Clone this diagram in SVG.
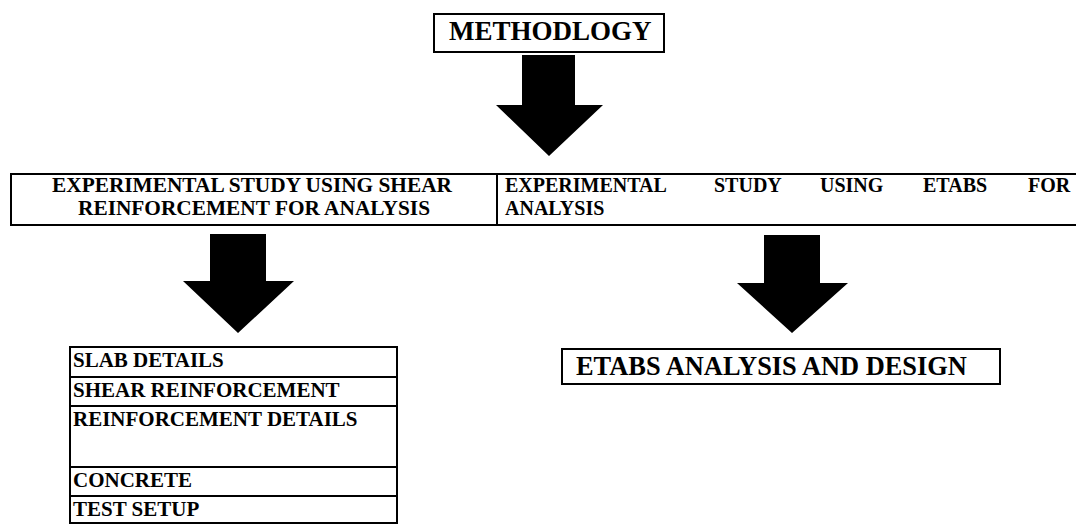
<svg xmlns="http://www.w3.org/2000/svg" width="1076" height="524" viewBox="0 0 1076 524">
<style>
.box{fill:#fff;stroke:#000;stroke-width:2}
.ln{stroke:#000;stroke-width:2;fill:none}
.t{font-family:"Liberation Serif","Times New Roman",serif;font-weight:bold;fill:#000}
.s{font-size:20px}
.arrow{fill:#000;stroke:none}
</style>
<rect width="1076" height="524" fill="#fff"/>
<g id="methodology">
<rect class="box" x="434" y="14" width="230" height="38"/>
<text class="t" x="449" y="40" font-size="27">METHODLOGY</text>
</g>
<g id="studies">
<path class="ln" d="M1080,174 H11 V225 H1080 M497,174 V225"/>
<text class="t s" x="52" y="192" textLength="400" lengthAdjust="spacingAndGlyphs">EXPERIMENTAL STUDY USING SHEAR</text>
<text class="t s" x="78" y="215" textLength="352" lengthAdjust="spacingAndGlyphs">REINFORCEMENT FOR ANALYSIS</text>
<text class="t s" y="192"><tspan x="505">EXPERIMENTAL</tspan><tspan x="714">STUDY</tspan><tspan x="820">USING</tspan><tspan x="923">ETABS</tspan><tspan x="1028">FOR</tspan></text>
<text class="t s" x="505" y="215">ANALYSIS</text>
</g>
<g id="shear-list">
<path class="ln" d="M70,347 H397 V523 H70 Z M70,377 H397 M70,406 H397 M70,467 H397 M70,496 H397"/>
<text class="t" font-size="21" x="73" y="367">SLAB DETAILS</text>
<text class="t" font-size="21" x="73" y="397">SHEAR REINFORCEMENT</text>
<text class="t" font-size="21" x="73" y="426">REINFORCEMENT DETAILS</text>
<text class="t" font-size="21" x="73" y="487">CONCRETE</text>
<text class="t" font-size="21" x="73" y="516">TEST SETUP</text>
</g>
<g id="etabs">
<rect class="box" x="562" y="349" width="438" height="35"/>
<text class="t" x="576" y="375" font-size="26.4">ETABS ANALYSIS AND DESIGN</text>
</g>
<g id="connectors">
<polygon class="arrow" points="522,55 575,55 575,105 603,105 549,156 496,105 522,105"/>
<polygon class="arrow" points="210,234 266,234 266,281 294,281 238,333 183,281 210,281"/>
<polygon class="arrow" points="764,235 820,235 820,283 848,283 792,333 737,283 764,283"/>
</g>
</svg>
